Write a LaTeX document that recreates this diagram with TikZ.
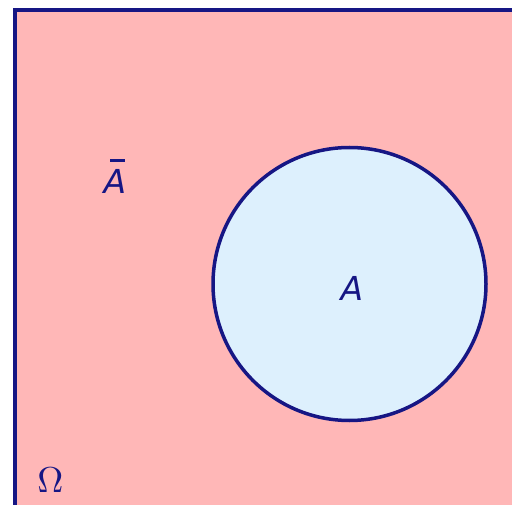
\documentclass[tikz,border=0pt]{standalone}
\usepackage{fontspec}
\setsansfont{DejaVu Sans}
\usepackage{xcolor}
\usetikzlibrary{shapes.geometric, positioning}

\definecolor{navyline}{RGB}{22,22,132}
\definecolor{pinkbg}{RGB}{255,183,183}
\definecolor{setblue}{RGB}{221,240,253}

\begin{document}
\begin{tikzpicture}[
    x=1pt, y=-1pt,
    border/.style={draw=navyline, line width=4pt},
    setlabel/.style={text=navyline, inner sep=0pt, font=\fontsize{33}{40}\selectfont\sffamily\itshape}
]
\useasboundingbox (0,0) rectangle (512,505);
\fill[white] (0,0) rectangle (512,505);
\clip (0,0) rectangle (512,505);

% universe
\draw[border, fill=pinkbg] (15,10) rectangle (540,540);
\node[text=navyline, inner sep=0pt, font=\normalsize, scale=3.6] (omega) at (50.5,480) {$\Omega$};

% the event A and its complement
\node[circle, draw=navyline, line width=3.5pt, fill=setblue, minimum size=273pt, inner sep=0pt] (setA) at (349.5,284) {};
\node[setlabel] (labelA) at (352,288) {A};
\node[setlabel] (labelAc) at (115,181) {A};
\draw[navyline, line width=3pt] ([shift={(-5,-8.5)}]labelAc.north) -- ([shift={(10,-8.5)}]labelAc.north);
\end{tikzpicture}
\end{document}
